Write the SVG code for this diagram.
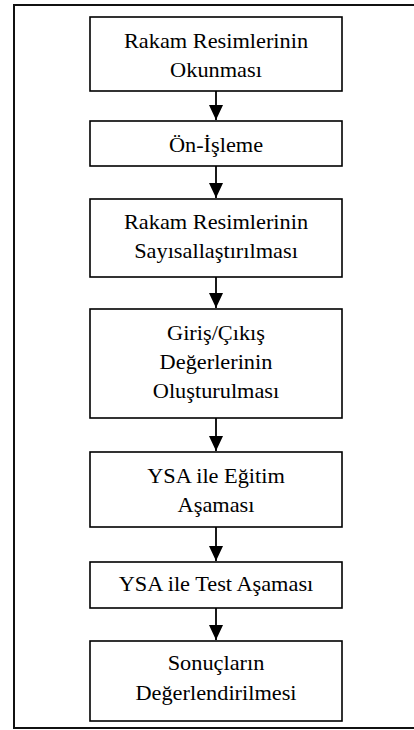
<svg xmlns="http://www.w3.org/2000/svg" width="414" height="730" viewBox="0 0 414 730">
<style>
.box{fill:#fff;stroke:#000;stroke-width:1.6}
.t{font-family:'Liberation Serif','DejaVu Serif',serif;font-size:20.3px;fill:#000;text-anchor:middle}
.c{stroke:#000;stroke-width:1.8;fill:none}
.frame{fill:none;stroke:#111;stroke-width:2}
</style>
<defs>
<marker id="ah" markerUnits="userSpaceOnUse" markerWidth="16" markerHeight="15" refX="15" refY="7" orient="auto">
<path d="M0,0 L15,7 L0,14 z" fill="#000"/>
</marker>
</defs>
<rect width="414" height="730" fill="#fff"/>
<path class="frame" d="M416,5 H14 V728 H416"/>
<g id="connectors">
<line class="c" x1="216" y1="91" x2="216" y2="120" marker-end="url(#ah)"/>
<line class="c" x1="216" y1="166" x2="216" y2="198" marker-end="url(#ah)"/>
<line class="c" x1="216" y1="277" x2="216" y2="308" marker-end="url(#ah)"/>
<line class="c" x1="216" y1="418" x2="216" y2="451" marker-end="url(#ah)"/>
<line class="c" x1="216" y1="527" x2="216" y2="561" marker-end="url(#ah)"/>
<line class="c" x1="216" y1="608" x2="216" y2="640" marker-end="url(#ah)"/>
</g>
<g id="n1" font-family="Liberation Serif, DejaVu Serif, serif">
<rect class="box" x="90" y="17" width="252" height="74"/>
<text class="t" transform="translate(216,48) scale(1.1,1)">Rakam Resimlerinin</text>
<text class="t" transform="translate(216,77) scale(1.1,1)">Okunması</text>
</g>
<g id="n2" font-family="Liberation Serif, DejaVu Serif, serif">
<rect class="box" x="90" y="121" width="252" height="45"/>
<text class="t" transform="translate(216,152) scale(1.1,1)">Ön-İşleme</text>
</g>
<g id="n3" font-family="Liberation Serif, DejaVu Serif, serif">
<rect class="box" x="90" y="199" width="252" height="78"/>
<text class="t" transform="translate(216,229) scale(1.1,1)">Rakam Resimlerinin</text>
<text class="t" transform="translate(216,258) scale(1.1,1)">Sayısallaştırılması</text>
</g>
<g id="n4" font-family="Liberation Serif, DejaVu Serif, serif">
<rect class="box" x="90" y="309" width="252" height="109"/>
<text class="t" transform="translate(216,340) scale(1.1,1)">Giriş/Çıkış</text>
<text class="t" transform="translate(216,369) scale(1.1,1)">Değerlerinin</text>
<text class="t" transform="translate(216,397.5) scale(1.1,1)">Oluşturulması</text>
</g>
<g id="n5" font-family="Liberation Serif, DejaVu Serif, serif">
<rect class="box" x="90" y="452" width="252" height="75"/>
<text class="t" transform="translate(216,482.5) scale(1.1,1)">YSA ile Eğitim</text>
<text class="t" transform="translate(216,512) scale(1.1,1)">Aşaması</text>
</g>
<g id="n6" font-family="Liberation Serif, DejaVu Serif, serif">
<rect class="box" x="90" y="562" width="252" height="46"/>
<text class="t" transform="translate(216,590.5) scale(1.1,1)">YSA ile Test Aşaması</text>
</g>
<g id="n7" font-family="Liberation Serif, DejaVu Serif, serif">
<rect class="box" x="90" y="641" width="252" height="80"/>
<text class="t" transform="translate(216,670) scale(1.1,1)">Sonuçların</text>
<text class="t" transform="translate(216,700) scale(1.1,1)">Değerlendirilmesi</text>
</g>
</svg>
